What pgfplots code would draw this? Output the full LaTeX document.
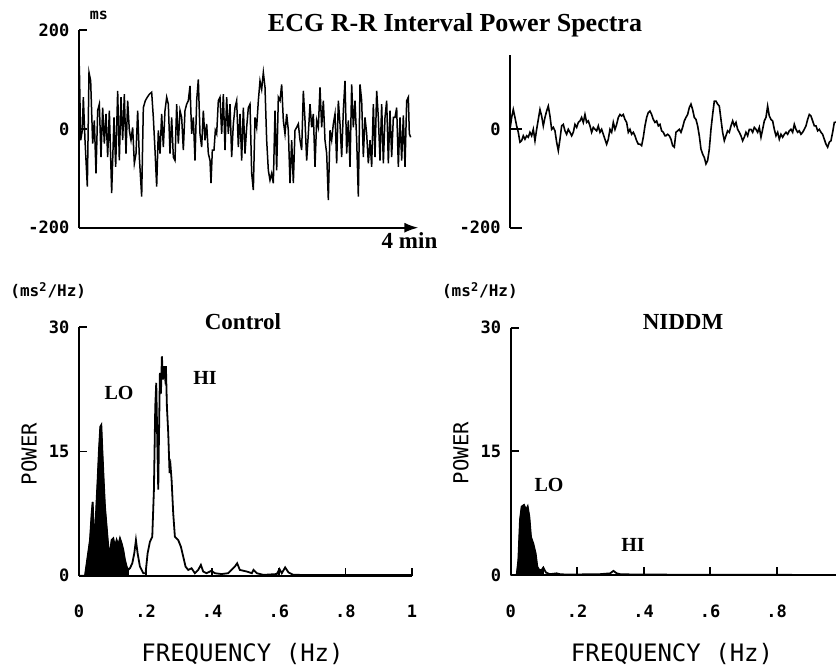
\documentclass[border=0pt]{standalone}
\usepackage{fontspec}
\setmainfont{Liberation Serif}
\newfontfamily\plotfont{DejaVu Sans Mono}
\usepackage{pgfplots}
\pgfplotsset{compat=1.18}
\usepackage{pgfplotstable}
\usetikzlibrary{arrows.meta}

\pgfplotstableread{
x y
0 0
0.2 127
1 -23
2 -3
2.6 64
3.6 -23
5 -117
6 114
7 97
8.2 -30
9.2 17
10.2 -90
11.2 37
12.2 50
13.2 -57
14.2 43
15.2 -30
16.2 30
17.2 -57
18.2 37
19.6 -130
21 23
22 -77
23.2 77
24.2 -64
25.2 64
26.2 -23
27.2 70
28.2 -50
29.2 57
30.2 -3
31.2 -23
32.2 3
33.2 -70
34.2 -50
35.2 37
36.2 -57
37.6 -137
38.6 43
39.8 57
41 64
42.2 70
43.6 74
44.6 23
45.6 -43
46.6 -117
47.6 -3
48.6 -50
49.6 30
50.6 -37
51.6 37
52.6 64
53.6 50
54.6 -50
55.6 23
56.6 -57
57.6 -64
58.6 50
59.6 -30
60.6 37
61.6 23
62.6 -43
63.6 37
64.6 50
65.6 57
66.6 87
67.6 -10
68.6 23
69.6 -64
70.6 57
71.6 100
72.6 -10
73.6 -37
74.6 37
75.6 -23
76.6 10
77.6 -50
78.6 -64
79.2 -110
80 -43
81 -43
81.8 -3
82.6 -10
83.6 57
84.6 64
85.6 -10
86.6 70
87.6 -43
88.6 64
89.6 -10
90.6 50
91.6 -57
92.6 10
93.6 43
94.6 57
95.6 -37
96.6 30
97.6 -64
98.6 43
99.6 -50
100.6 3
101.6 43
102.6 50
103.6 -90
104.6 -124
105.6 23
106.6 3
107.6 57
108.6 97
109.6 80
110.6 114
111.6 84
112.6 -23
113.6 -84
114.6 -104
115.6 -90
116.6 -110
117.6 37
118.6 -84
119.6 64
120.6 57
121.6 90
122.6 17
123.6 -10
124.6 30
125.6 -3
126.6 -110
127.6 -23
128.6 -110
129.6 -3
130.6 3
131.6 10
132.6 -23
133.6 -43
134.6 77
135.6 17
136.6 -64
137.6 -10
138.6 50
139.6 3
140.6 30
141.6 -77
142.6 17
143.6 3
144.6 84
145.6 3
146.6 57
147.6 -23
148.6 -50
149.6 -144
150.6 -3
151.6 -23
152.6 10
153.6 30
154.6 -70
155.6 57
156.6 10
157.6 -57
158.6 37
159.6 97
160.6 -50
161.6 17
162.6 -77
163.6 90
164.6 3
165.6 57
166.6 -23
167.6 -137
168.6 90
169.6 57
170.6 -57
171.6 23
172.6 -10
173.6 -70
174.6 -23
175.6 -77
176.6 50
177.6 -57
178.6 77
179.6 23
180.6 -64
181.6 50
182.6 -70
183.6 23
184.6 57
185.6 -70
186.6 37
187.6 -57
188.6 23
189.6 23
190.6 43
191.6 -77
192.6 23
193.6 -64
194.6 27
195.6 -77
196.6 57
197.6 64
198.2 -10
199 -17
}\rrcontrol

\pgfplotstableread{
x y
0 3
0.8 23
1.8 39
2.8 23
3.8 6
4.8 -7
5.8 -27
6.8 -24
7.8 -14
8.8 -21
9.8 -14
10.8 -17
11.8 -7
12.8 -14
13.8 -1
14.8 -24
15.8 -1
16.8 19
17.8 39
18.8 26
19.8 6
20.8 23
21.8 36
22.8 46
23.8 26
24.8 -1
25.8 3
26.8 -4
27.8 -27
28.8 -44
29.8 -21
30.8 6
31.8 9
32.8 -4
33.8 -11
34.8 -1
35.8 -7
36.8 -14
37.8 -7
38.8 9
39.8 3
40.8 13
41.8 16
42.8 23
43.8 13
44.8 29
45.8 13
46.8 16
47.8 6
48.8 -7
49.8 3
50.8 -1
51.8 -4
52.8 6
53.8 -7
54.8 -1
55.8 -11
56.8 -21
57.8 -31
58.8 -21
59.8 -1
60.8 -7
61.8 13
62.8 -1
63.8 9
64.8 23
65.8 29
66.8 26
67.8 29
68.8 19
69.8 13
70.8 -7
71.8 -1
72.8 -11
73.8 -7
74.8 -14
75.8 -24
76.8 -31
77.8 -31
78.8 -34
79.8 -17
80.8 6
81.8 23
82.8 33
83.8 36
84.8 29
85.8 19
86.8 13
87.8 16
88.8 6
89.8 9
90.8 -4
91.8 -7
92.8 -14
93.4 -14
94.4 -11
95.4 -14
96.4 -21
97.4 -34
98.4 -37
99.4 -7
100.4 -4
101.4 -1
102.4 -7
103.4 3
104.4 16
105.4 23
106.4 29
107.4 43
108.4 50
109.4 39
110.4 23
111.4 19
112.4 6
113.4 -14
114.4 -41
115.4 -51
116.4 -58
117.4 -71
118.4 -64
119.4 -41
120.4 -1
121.4 29
122.4 56
123.4 56
124.4 50
125.4 46
126.4 19
127.4 -7
128.4 -24
129.4 -14
130.4 -4
131.4 -7
132.4 6
133.4 16
134.4 6
135.4 13
136.4 -1
137.4 -7
138.4 -14
139.4 -24
140.4 -17
141.4 -7
142.4 -14
143.4 -1
144.4 -1
145.4 -7
146.4 3
147.4 -1
148.4 -7
149.4 3
150.4 -17
151.4 -1
152.4 16
153.4 23
154.4 46
155.4 26
156.4 19
157.4 16
158.4 -1
159.4 -14
160.4 -7
161.4 -21
162.4 -11
163.4 -17
164.4 -11
165.4 -7
166.4 -11
167.4 -4
168.4 -1
169.4 -7
170.4 9
171.4 -1
172.4 -7
173.4 -4
174.4 -11
175.4 -7
176.4 -1
177.4 6
178.4 19
179.4 29
180.4 26
181.4 16
182.4 6
183.4 6
184.4 -4
185.4 -1
186.4 -7
187.4 -11
188.4 -21
189.4 -31
190.4 -37
191.4 -27
192.4 -24
193.4 -7
194.4 13
195.4 13
196.4 20
198 10
}\rrniddm

\pgfplotstableread{
f p
0 0
0.018 0
0.026 2.3
0.033 4.3
0.038 7.5
0.041 8.9
0.044 5.9
0.048 4.3
0.052 8.3
0.056 11.6
0.060 15.2
0.064 18.0
0.067 18.2
0.070 15.2
0.074 11.6
0.078 8.3
0.083 5.9
0.088 3.5
0.093 2.7
0.098 4.3
0.103 4.5
0.108 3.5
0.113 4.3
0.118 3.7
0.123 4.5
0.128 3.9
0.133 3.1
0.138 1.9
0.143 1.1
0.148 0.7
0.153 0.9
0.160 1.5
0.166 2.7
0.171 4.3
0.176 2.7
0.183 1.1
0.193 0.3
0.200 0.3
0.206 2.7
0.213 4.1
0.220 4.7
0.225 10.4
0.229 20.4
0.232 23.3
0.235 16.4
0.238 10.4
0.240 16.4
0.243 24.5
0.246 22.0
0.249 26.5
0.252 23.7
0.255 25.3
0.258 24.1
0.261 25.3
0.264 20.4
0.268 17.2
0.272 12.4
0.275 13.2
0.278 11.6
0.283 7.5
0.288 4.7
0.298 4.3
0.306 3.5
0.313 2.3
0.320 1.1
0.328 0.7
0.338 0.9
0.348 0.3
0.358 0.7
0.366 1.3
0.373 0.5
0.383 0.3
0.398 0.6
0.408 0.3
0.428 0.2
0.448 0.3
0.458 0.7
0.468 1.1
0.475 1.5
0.483 0.7
0.504 0.5
0.519 0.3
0.524 0.7
0.534 0.3
0.554 0.1
0.594 0.2
0.602 0.8
0.609 0.3
0.619 1.0
0.629 0.4
0.644 0.1
0.764 0.08
1.0 0.08
}\speccontrol

\pgfplotstableread{
f p
0 0
0.018 0
0.023 1.8
0.028 6.7
0.033 8.3
0.040 8.5
0.046 7.9
0.051 8.3
0.056 7.1
0.061 4.6
0.068 3.8
0.075 2.6
0.080 1.0
0.086 0.6
0.093 0.6
0.098 0.9
0.106 0.3
0.118 0.1
0.138 0.2
0.148 0.1
0.168 0.05
0.269 0.1
0.299 0.2
0.309 0.5
0.319 0.2
0.329 0.1
0.379 0.05
1.0 0
}\specniddm

\pgfplotsset{
  panel/.style={
    scale only axis,
    every tick/.style={black,line width=0.9pt},
    major tick length=4pt,
    tick align=inside,
    ticklabel style={font=\plotfont\bfseries\fontsize{8.5}{8.5}\selectfont},
    yticklabel style={xshift=-1.3pt},
  },
  noarrows/.style={
    axis line style={line width=0.9pt,-},
    x axis line style={-},
    y axis line style={-},
    every outer x axis line/.append style={-},
    every outer y axis line/.append style={-},
    every inner x axis line/.append style={-},
    every inner y axis line/.append style={-},
  },
  spec/.style={
    axis x line=bottom, axis y line=left,
    panel, noarrows,
    xmin=0, xmax=1, ymin=0, ymax=30,
    xtick={0,0.2,0.4,0.6,0.8,1},
    ytick={0,15,30},
    yticklabels={0,15,30},
    xticklabel style={yshift=-11.3pt},
  },
}

\def\u{0.5pt}
\begin{document}
\begin{tikzpicture}
\useasboundingbox (0,0) rectangle (418pt,-334pt);
\clip (0,0) rectangle (418pt,-334pt);
\fill[white] (0,0) rectangle (418pt,-334pt);

% top-left time series
\begin{axis}[
  axis x line=bottom, axis y line=left,
  panel, noarrows,
  every outer x axis line/.append style={-{Latex[length=7pt,width=5pt]}},
  at={(39.5pt,-113.85pt)}, anchor=south west,
  width=169.67pt, height=98.85pt,
  xmin=0, xmax=203.6, ymin=-200, ymax=200,
  xtick=\empty,
  ytick={-200,0,200}, yticklabels={-200,0,200},
]
\addplot[black, line width=0.75pt] table {\rrcontrol};
\end{axis}

% top-right time series
\begin{axis}[
  axis x line=none, axis y line=left,
  panel, noarrows,
  at={(255.15pt,-113.85pt)}, anchor=south west,
  width=169.67pt, height=86.5pt,
  xmin=0, xmax=203.6, ymin=-200, ymax=150,
  major tick length=6pt,
  xtick=\empty,
  ytick={-200,0}, yticklabels={-200,0},
]
\addplot[black, line width=0.8pt] table {\rrniddm};
\end{axis}

% bottom-left spectrum
\begin{axis}[spec,
  xticklabels={0,.2,.4,.6,.8,1},
  at={(39.5pt,-287.85pt)}, anchor=south west,
  width=166.5pt, height=124.2pt,
]
\addplot[black, fill=black, line width=0.5pt, restrict x to domain=0:0.149] table {\speccontrol} \closedcycle;
\addplot[black, line width=0.9pt] table {\speccontrol};
\end{axis}

% bottom-right spectrum
\begin{axis}[spec,
  xticklabels={0,.2,.4,.6,.8,{}},
  at={(255.35pt,-287.5pt)}, anchor=south west,
  width=166.25pt, height=123.65pt,
]
\addplot[black, fill=black, line width=0.5pt, restrict x to domain=0:0.1] table {\specniddm} \closedcycle;
\addplot[black, line width=0.9pt] table {\specniddm};
\end{axis}

% texts
\node[anchor=base, font=\bfseries\fontsize{13}{13}\selectfont] at ({455*\u},{-32*\u}) {ECG R-R Interval Power Spectra};
\node[anchor=base, inner sep=0pt, font=\plotfont\bfseries\fontsize{7.5}{7.5}\selectfont] at ({99*\u},{-20*\u}) {ms};
\node[anchor=base, inner sep=0pt, font=\bfseries\fontsize{11.5}{11.5}\selectfont] at ({409.5*\u},{-249*\u}) {4 min};

\node[anchor=base west, inner sep=0pt, font=\plotfont\bfseries\fontsize{8}{8}\selectfont] at ({10*\u},{-297*\u}) {(ms\textsuperscript{2}/Hz)};
\node[anchor=base west, inner sep=0pt, font=\plotfont\bfseries\fontsize{8}{8}\selectfont] at ({441.7*\u},{-297*\u}) {(ms\textsuperscript{2}/Hz)};

\node[rotate=90, anchor=base, inner sep=0pt, font=\plotfont\fontsize{10.3}{10.3}\selectfont] at ({36.7*\u},{-454*\u}) {POWER};
\node[rotate=90, anchor=base, inner sep=0pt, font=\plotfont\fontsize{10.3}{10.3}\selectfont] at ({468.3*\u},{-453*\u}) {POWER};

\node[anchor=base, inner sep=0pt, font=\plotfont\fontsize{12}{12}\selectfont] at ({242.5*\u},{-661*\u}) {FREQUENCY (Hz)};
\node[anchor=base, inner sep=0pt, font=\plotfont\fontsize{12}{12}\selectfont] at ({672*\u},{-661*\u}) {FREQUENCY (Hz)};

\node[anchor=base, inner sep=0pt, font=\bfseries\fontsize{11.5}{11.5}\selectfont] at ({243*\u},{-330*\u}) {Control};
\node[anchor=base, inner sep=0pt, font=\bfseries\fontsize{10}{10}\selectfont] at ({119*\u},{-400*\u}) {LO};
\node[anchor=base, inner sep=0pt, font=\bfseries\fontsize{10}{10}\selectfont] at ({205*\u},{-385*\u}) {HI};

\node[anchor=base, inner sep=0pt, font=\bfseries\fontsize{11.5}{11.5}\selectfont] at ({683*\u},{-329.3*\u}) {NIDDM};
\node[anchor=base, inner sep=0pt, font=\bfseries\fontsize{10}{10}\selectfont] at ({549*\u},{-491.7*\u}) {LO};
\node[anchor=base, inner sep=0pt, font=\bfseries\fontsize{10}{10}\selectfont] at ({633*\u},{-551.7*\u}) {HI};
\end{tikzpicture}
\end{document}
